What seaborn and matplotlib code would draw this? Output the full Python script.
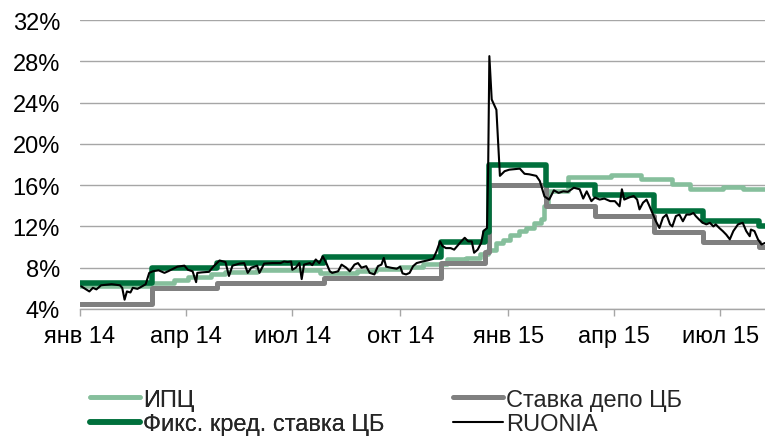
import numpy as np
import pandas as pd
import matplotlib
matplotlib.use("Agg")
import matplotlib.pyplot as plt
import seaborn as sns

# ---- data ----
key_dates = ["2014-01-01", "2014-03-03", "2014-04-28", "2014-07-28", "2014-11-05",
             "2014-12-12", "2014-12-16", "2015-02-02", "2015-03-16", "2015-05-05",
             "2015-06-16", "2015-08-03", "2015-08-09"]
depo_rate = [4.5, 6.0, 6.5, 7.0, 8.5, 9.5, 16.0, 14.0, 13.0, 11.5, 10.5, 10.0, 10.0]
fix_rate = [6.5, 8.0, 8.5, 9.0, 10.5, 11.5, 18.0, 16.0, 15.0, 13.5, 12.5, 12.0, 12.0]

cpi_dates = ["2014-01-01", "2014-03-01", "2014-03-22", "2014-04-03", "2014-04-23",
             "2014-05-05", "2014-06-01", "2014-07-25", "2014-08-25", "2014-09-10",
             "2014-10-01", "2014-10-20", "2014-11-10", "2014-11-26", "2014-12-08",
             "2014-12-15", "2014-12-22", "2014-12-28", "2015-01-03", "2015-01-10",
             "2015-01-16", "2015-01-23", "2015-01-29", "2015-02-01", "2015-02-04",
             "2015-02-21", "2015-03-30", "2015-04-24", "2015-05-21", "2015-06-05",
             "2015-07-03", "2015-07-20", "2015-08-09"]
cpi = [6.2, 6.5, 6.85, 7.1, 7.35, 7.6, 7.8, 7.5, 7.65, 7.9,
       8.1, 8.4, 8.8, 8.95, 9.3, 9.75, 10.4, 10.7, 11.2, 11.55,
       11.85, 12.35, 12.7, 14.0, 15.4, 16.75, 16.95, 16.6, 16.1, 15.65,
       15.8, 15.65, 15.65]

ruonia_dates = [
    "2014-01-02", "2014-01-09", "2014-01-12", "2014-01-15", "2014-01-19", "2014-01-28",
    "2014-02-04", "2014-02-06", "2014-02-08", "2014-02-10", "2014-02-13", "2014-02-15",
    "2014-02-19", "2014-02-23", "2014-02-26", "2014-03-01", "2014-03-04", "2014-03-09",
    "2014-03-14", "2014-03-17", "2014-03-25", "2014-03-31", "2014-04-03", "2014-04-07",
    "2014-04-10", "2014-04-11", "2014-04-15", "2014-04-21", "2014-04-25", "2014-04-30",
    "2014-05-05", "2014-05-08", "2014-05-11", "2014-05-17", "2014-05-21", "2014-05-24",
    "2014-05-27", "2014-06-01", "2014-06-03", "2014-06-07", "2014-06-14", "2014-06-21",
    "2014-06-24", "2014-06-27", "2014-06-30", "2014-07-01", "2014-07-04", "2014-07-07",
    "2014-07-09", "2014-07-11", "2014-07-16", "2014-07-18", "2014-07-21", "2014-07-24",
    "2014-07-27", "2014-07-30", "2014-08-02", "2014-08-04", "2014-08-09", "2014-08-12",
    "2014-08-16", "2014-08-19", "2014-08-23", "2014-08-26", "2014-08-29", "2014-09-02",
    "2014-09-05", "2014-09-09", "2014-09-12", "2014-09-15", "2014-09-17", "2014-09-19",
    "2014-09-23", "2014-09-28", "2014-10-01", "2014-10-03", "2014-10-06", "2014-10-09",
    "2014-10-12", "2014-10-15", "2014-10-20", "2014-10-24", "2014-10-29", "2014-11-01",
    "2014-11-04", "2014-11-06", "2014-11-09", "2014-11-13", "2014-11-16", "2014-11-19",
    "2014-11-22", "2014-11-25", "2014-11-28", "2014-12-01", "2014-12-03", "2014-12-06",
    "2014-12-09", "2014-12-11", "2014-12-14", "2014-12-15", "2014-12-16", "2014-12-18",
    "2014-12-22", "2014-12-25", "2014-12-29", "2015-01-02", "2015-01-11", "2015-01-15",
    "2015-01-19", "2015-01-25", "2015-01-28", "2015-02-01", "2015-02-05", "2015-02-09",
    "2015-02-13", "2015-02-17", "2015-02-21", "2015-02-26", "2015-03-03", "2015-03-06",
    "2015-03-09", "2015-03-13", "2015-03-16", "2015-03-20", "2015-03-24", "2015-03-29",
    "2015-04-02", "2015-04-06", "2015-04-08", "2015-04-10", "2015-04-14", "2015-04-18",
    "2015-04-21", "2015-04-23", "2015-04-26", "2015-04-29", "2015-05-01", "2015-05-04",
    "2015-05-07", "2015-05-10", "2015-05-13", "2015-05-16", "2015-05-19", "2015-05-21",
    "2015-05-24", "2015-05-27", "2015-05-30", "2015-06-02", "2015-06-05", "2015-06-08",
    "2015-06-10", "2015-06-13", "2015-06-16", "2015-06-19", "2015-06-22", "2015-06-25",
    "2015-06-27", "2015-06-30", "2015-07-03", "2015-07-06", "2015-07-09", "2015-07-12",
    "2015-07-16", "2015-07-20", "2015-07-23", "2015-07-26", "2015-07-27", "2015-07-30",
    "2015-08-02", "2015-08-05", "2015-08-08"]
ruonia = [
    6.2, 5.7, 6.05, 5.9, 6.3, 6.4,
    6.3, 6.05, 4.9, 5.7, 5.6, 6.05,
    5.95, 6.2, 6.4, 7.5, 7.65, 7.75,
    7.5, 7.65, 8.1, 8.2, 7.8, 7.65,
    6.6, 7.5, 7.55, 7.6, 8.15, 8.7,
    8.55, 7.2, 8.2, 8.4, 8.45, 7.5,
    8.0, 8.2, 7.5, 8.4, 8.45, 8.45,
    8.6, 8.55, 8.6, 7.8, 8.0, 8.45,
    6.9, 8.3, 8.45, 8.25, 8.8, 8.45,
    9.1, 8.45, 7.65, 7.5, 7.65, 8.3,
    8.0, 7.65, 8.3, 8.45, 8.0, 8.15,
    7.5, 7.35, 8.15, 8.3, 8.95, 8.1,
    8.0, 7.9, 8.1, 7.45, 7.35, 7.5,
    8.15, 8.45, 8.6, 8.7, 8.85, 9.6,
    10.55, 10.1, 9.9, 9.9, 9.75, 10.15,
    10.55, 10.9, 10.55, 10.55, 9.45, 9.75,
    10.4, 11.55, 11.85, 17.85, 28.5, 24.3,
    23.3, 16.9, 17.35, 17.5, 17.6, 17.1,
    17.05, 16.9, 16.4, 14.9, 14.6, 15.5,
    15.25, 15.4, 15.35, 15.75, 15.6, 14.7,
    15.4, 14.45, 14.8, 14.6, 14.7, 14.45,
    14.45, 13.95, 15.6, 14.6, 14.8, 14.95,
    14.6, 13.65, 14.3, 14.6, 14.1, 13.3,
    12.5, 11.85, 12.85, 13.15, 12.2, 12.0,
    13.0, 13.15, 12.5, 13.15, 13.15, 13.3,
    13.0, 12.65, 12.35, 12.2, 12.35, 12.0,
    12.2, 11.85, 11.55, 11.2, 10.75, 11.55,
    12.2, 12.35, 11.55, 11.05, 11.7, 11.55,
    10.75, 10.25, 10.4]

tick_dates = ["2014-01-01", "2014-04-01", "2014-07-01", "2014-10-01",
              "2015-01-01", "2015-04-01", "2015-07-01"]
tick_labels = ["янв 14", "апр 14", "июл 14", "окт 14", "янв 15", "апр 15", "июл 15"]
y_ticks = [4, 8, 12, 16, 20, 24, 28, 32]

labels = ["ИПЦ", "Ставка депо ЦБ", "Фикс. кред. ставка ЦБ", "RUONIA"]
colors = ["#86bf9c", "#808080", "#00703c", "#000000"]

# ---- figure ----
sns.set_theme(style="white")
plt.rcParams["font.family"] = ["Liberation Sans", "DejaVu Sans"]
FS = 17

fig = plt.figure(figsize=(7.65, 4.39), dpi=100)
ax = fig.add_axes([80 / 765, 1 - 310 / 439, 1 - 80 / 765, (310 - 21) / 439])

df_cpi = pd.DataFrame({"date": pd.to_datetime(cpi_dates), "v": cpi})
df_key = pd.DataFrame({"date": pd.to_datetime(key_dates), "depo": depo_rate, "fix": fix_rate})
df_ru = pd.DataFrame({"date": pd.to_datetime(ruonia_dates), "v": ruonia})

common = dict(estimator=None, sort=False, solid_joinstyle="round", solid_capstyle="round")
sns.lineplot(data=df_cpi, x="date", y="v", ax=ax, color=colors[0], lw=3.3,
             drawstyle="steps-post", label=labels[0], zorder=2, **common)
sns.lineplot(data=df_key, x="date", y="depo", ax=ax, color=colors[1], lw=3.6,
             drawstyle="steps-post", label=labels[1], zorder=3, **common)
sns.lineplot(data=df_key, x="date", y="fix", ax=ax, color=colors[2], lw=4.0,
             drawstyle="steps-post", label=labels[2], zorder=4, **common)
sns.lineplot(data=df_ru, x="date", y="v", ax=ax, color=colors[3], lw=1.5,
             label=labels[3], zorder=5, **common)

ax.set_xlim(pd.Timestamp("2014-01-01"), pd.Timestamp("2015-08-08"))
ax.set_ylim(4, 32)
ax.set_yticks(y_ticks)
ax.set_yticklabels([f"{v}%" for v in y_ticks])
ax.set_xticks(pd.to_datetime(tick_dates))
ax.set_xticklabels(tick_labels)
ax.set_xlabel("")
ax.set_ylabel("")

for s in ["top", "right", "left"]:
    ax.spines[s].set_visible(False)
ax.spines["bottom"].set_color("#a6a6a6")
ax.spines["bottom"].set_linewidth(1.0)
ax.yaxis.grid(True, color="#a6a6a6", lw=1.0)
ax.set_axisbelow(True)
ax.tick_params(axis="y", length=0, pad=14.4, labelsize=FS, labelcolor="black")
ax.tick_params(axis="x", length=5, width=1, color="#a6a6a6", direction="out",
               pad=6.3, labelsize=FS, labelcolor="black", bottom=True)

handles, lbls = ax.get_legend_handles_labels()
ax.get_legend().remove()
for h in handles:
    h.set_solid_capstyle("round")

leg_kw = dict(loc="center left", frameon=False, fontsize=FS, handlelength=2.1,
              handletextpad=0.15, labelspacing=0.12, borderpad=0, borderaxespad=0)
mid_y = 1 - 413 / 439
leg1 = fig.legend([handles[0], handles[2]], [lbls[0], lbls[2]],
                  bbox_to_anchor=(90 / 765, mid_y), **leg_kw)
fig.add_artist(leg1)
leg2 = fig.legend([handles[1], handles[3]], [lbls[1], lbls[3]],
                  bbox_to_anchor=(453 / 765, mid_y), **leg_kw)

fig.savefig("out.png", dpi=100)
